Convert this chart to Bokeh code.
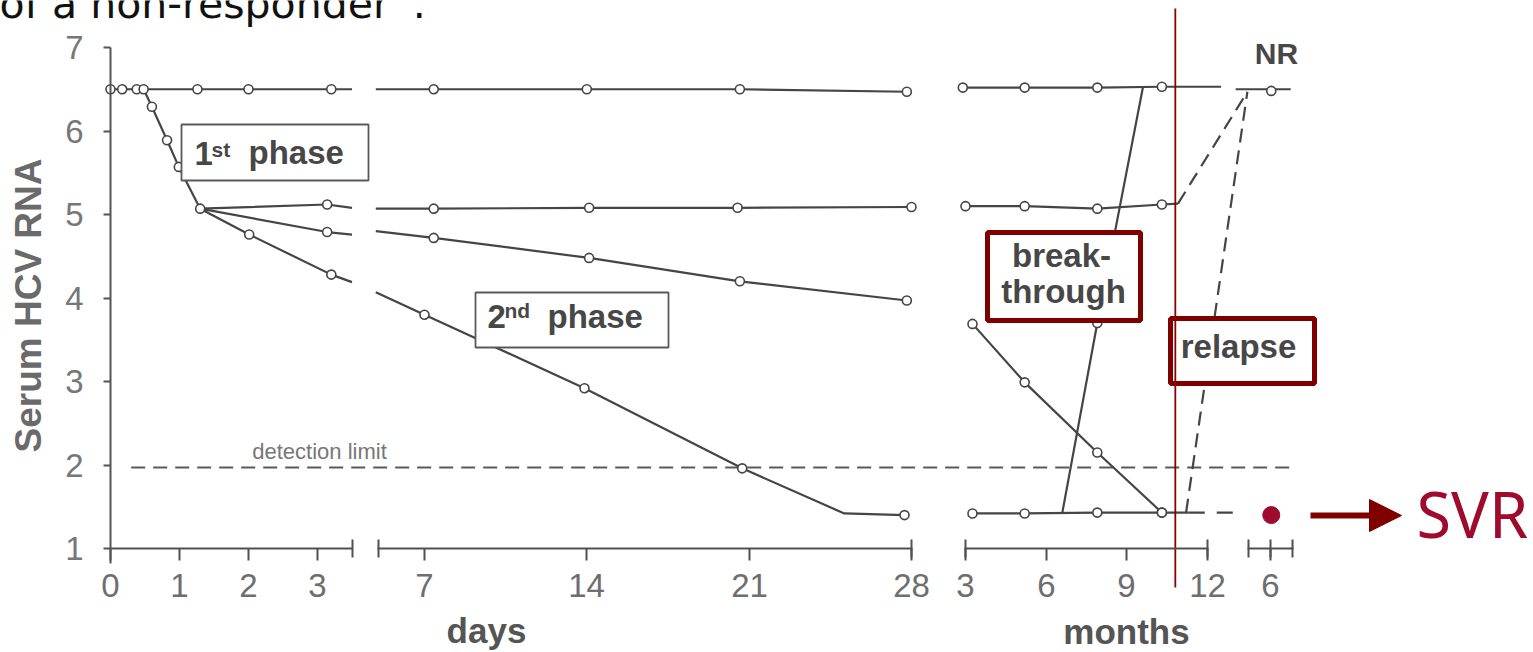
from bokeh.plotting import figure
from bokeh.models import Range1d, LinearAxis, FixedTicker, Label, Arrow, NormalHead
from bokeh.embed import file_html
from bokeh.resources import INLINE

# ---------------- data ----------------
# log10 serum HCV RNA over a broken time axis:
#   days 0-3.5 | days 5-28 | months 3-12 (therapy) | follow-up months 0-12
nr_days = [0, 0.17, 0.38, 0.48, 1.26, 2.0, 3.2]
nr_days_v = [6.5, 6.5, 6.5, 6.5, 6.5, 6.5, 6.5]
nr_weeks = [7.4, 14.0, 20.6, 27.8]
nr_weeks_v = [6.5, 6.5, 6.5, 6.47]
nr_months = [2.9, 5.2, 7.9, 10.3]
nr_months_v = [6.52, 6.52, 6.52, 6.53]
nr_follow = [6.2]
nr_follow_v = [6.48]

first_phase_days = [0.48, 0.6, 0.82, 0.99, 1.3]
first_phase_v = [6.5, 6.29, 5.89, 5.57, 5.07]

plateau_days = [1.3, 3.14]
plateau_days_v = [5.07, 5.12]
plateau_weeks = [7.4, 14.1, 20.5, 28.0]
plateau_weeks_v = [5.07, 5.08, 5.08, 5.09]
plateau_months = [3.0, 5.2, 7.9, 10.3]
plateau_months_v = [5.1, 5.1, 5.07, 5.12]

slow_days = [1.3, 3.14]
slow_days_v = [5.07, 4.79]
slow_weeks = [7.4, 14.1, 20.6, 27.8]
slow_weeks_v = [4.72, 4.48, 4.2, 3.97]

fast_days = [1.3, 2.01, 3.2]
fast_days_v = [5.07, 4.76, 4.28]
fast_weeks = [7.0, 13.9, 20.7, 27.7]
fast_weeks_v = [3.8, 2.92, 1.96, 1.4]
fast_knee = [25.1, 1.42]

late_months = [3.26, 5.2, 7.9, 10.3]
late_months_v = [3.69, 2.99, 2.15, 1.43]
svr_months = [3.26, 5.2, 7.9, 10.3]
svr_months_v = [1.42, 1.42, 1.43, 1.43]
svr_follow = [6.2]
svr_follow_v = [1.4]

breakthrough_months = [6.6, 7.9, 9.6]
breakthrough_v = [1.43, 3.7, 6.53]
relapse_start = [11.2, 1.43]      # month, value
plateau_relapse_start = [10.9, 5.13]
relapse_end_follow = [-0.3, 6.47]  # follow-up month, value

# values where lines meet the axis breaks
break_day_end, break_day_start = 3.5, 4.9
nr_break_v = [6.5, 6.5]
plateau_break_v = [5.08, 5.07]
slow_break_v = [4.76, 4.8]
fast_break_v = [4.19, 4.07]
nr_month_end, nr_follow_start, nr_follow_end = 12.5, -3.5, 11.5
svr_solid_end, svr_dash_end_follow = 11.3, -2.5

detection_limit = 1.97
end_of_therapy_month = 10.8

y_ticks = [1, 2, 3, 4, 5, 6, 7]
day_ticks_a = [0, 1, 2, 3]
day_ticks_b = [7, 14, 21, 28]
month_ticks = [3, 6, 9, 12]
follow_ticks = [6]

# ---------------- broken-axis layout ----------------
W, H = 1533, 652
PX_Y = 83.5
AXIS_X = 110          # page x of the y axis
AXIS_Y = 548          # page y of value 1
Y_TOP = 1 + AXIS_Y / PX_Y
Y_BOTTOM = Y_TOP - H / PX_Y


def x_day(d):
    return 69.0 * d if d <= 4 else 267.6 + 23.19 * (d - 5)


def x_mon(m):
    return 855.0 + 26.9 * (m - 3)


def x_fu(m):
    return 1138.0 + 3.67 * m


def ux(page_x):
    return page_x - AXIS_X


def vy(page_y):
    return Y_TOP - page_y / PX_Y


LINE = "#454545"
TXT = "#474747"
GRAY = "#6e6e6e"
RED = "#800000"
SVR_RED = "#9e0b2c"

p = figure(frame_width=W, frame_height=H,
           x_range=Range1d(-AXIS_X, W - AXIS_X), y_range=Range1d(Y_BOTTOM, Y_TOP),
           x_axis_type=None, y_axis_type=None, output_backend="svg", toolbar_location=None,
           min_border_left=0, min_border_right=0, min_border_top=0, min_border_bottom=0)
p.grid.visible = False
p.outline_line_color = None
p.background_fill_color = "white"
p.border_fill_color = "white"

# y axis, fixed at x = 0
ya = LinearAxis(ticker=FixedTicker(ticks=y_ticks), bounds=(0.82, 7), fixed_location=0.0)
ya.axis_line_color = "#555555"
ya.axis_line_width = 2
ya.major_tick_line_color = "#555555"
ya.major_tick_line_width = 2
ya.major_tick_out = 7
ya.major_tick_in = 0
ya.minor_tick_line_color = None
ya.major_label_text_font = "Liberation Sans"
ya.major_label_text_font_size = "33px"
ya.major_label_text_color = "#777777"
ya.major_label_standoff = 20
ya.axis_label = "Serum HCV RNA"
ya.axis_label_text_font = "Liberation Sans"
ya.axis_label_text_font_style = "bold"
ya.axis_label_text_font_size = "37px"
ya.axis_label_text_color = "#6a6a6a"
ya.axis_label_standoff = 13
p.add_layout(ya, "left")


# broken x axis: four axes fixed at y = 1
def add_x_axis(lo, hi, major, labels, minor):
    ticks = [int(round(t)) for t in major]
    mt = [int(round(t)) for t in minor]
    ax = LinearAxis(ticker=FixedTicker(ticks=ticks, minor_ticks=mt),
                    bounds=(lo - 0.6, hi + 0.6), fixed_location=1.0,
                    major_label_overrides={t: s for t, s in zip(ticks, labels)})
    ax.axis_line_color = "#505050"
    ax.axis_line_width = 2
    ax.major_tick_line_color = "#505050"
    ax.major_tick_line_width = 2
    ax.major_tick_out = 12
    ax.major_tick_in = 0
    ax.minor_tick_line_color = "#505050"
    ax.minor_tick_line_width = 2
    ax.minor_tick_in = 9
    ax.minor_tick_out = 9
    ax.major_label_text_font = "Liberation Sans"
    ax.major_label_text_font_size = "33px"
    ax.major_label_text_color = GRAY
    ax.major_label_standoff = 13
    p.add_layout(ax, "below")


add_x_axis(x_day(0), x_day(3.5), [x_day(d) for d in day_ticks_a],
           [str(d) for d in day_ticks_a], [x_day(3.5)])
add_x_axis(x_day(5), x_day(28), [x_day(d) for d in day_ticks_b],
           [str(d) for d in day_ticks_b], [x_day(5), x_day(28)])
add_x_axis(x_mon(3), x_mon(12), [x_mon(m) for m in month_ticks],
           [str(m) for m in month_ticks], [x_mon(3), x_mon(12)])
add_x_axis(x_fu(0), x_fu(12), [x_fu(m) for m in follow_ticks],
           [str(m) for m in follow_ticks], [x_fu(0), x_fu(6), x_fu(12)])

LW = 2.2


def solid(xs, ys):
    p.line(xs, ys, line_color=LINE, line_width=LW)


def dashed(xs, ys, dash="14 8"):
    p.line(xs, ys, line_color=LINE, line_width=LW, line_dash=dash)


def dots(xs, ys):
    p.scatter(xs, ys, marker="circle", size=9, fill_color="white",
              line_color=LINE, line_width=1.6)


# detection limit
p.line([x_day(0.3), x_fu(12.3)], [detection_limit, detection_limit],
       line_color="#5a5a5a", line_width=1.8, line_dash="14 8")

# non-responder
solid([x_day(d) for d in nr_days] + [x_day(break_day_end)], nr_days_v + [nr_break_v[0]])
solid([x_day(break_day_start)] + [x_day(d) for d in nr_weeks] + [x_day(28)],
      [nr_break_v[1]] + nr_weeks_v + [nr_weeks_v[-1]])
solid([x_mon(m) for m in nr_months] + [x_mon(nr_month_end)], nr_months_v + [nr_months_v[-1]])
solid([x_fu(nr_follow_start), x_fu(nr_follow_end)], [6.5, 6.5])

# first phase
solid([x_day(d) for d in first_phase_days], first_phase_v)

# plateau (partial response)
solid([x_day(d) for d in plateau_days] + [x_day(break_day_end)], plateau_days_v + [plateau_break_v[0]])
solid([x_day(break_day_start)] + [x_day(d) for d in plateau_weeks],
      [plateau_break_v[1]] + plateau_weeks_v)
solid([x_mon(m) for m in plateau_months] + [x_mon(plateau_relapse_start[0])],
      plateau_months_v + [plateau_relapse_start[1]])
dashed([x_mon(plateau_relapse_start[0]), x_fu(relapse_end_follow[0])],
       [plateau_relapse_start[1], relapse_end_follow[1]])

# slow second phase
solid([x_day(d) for d in slow_days] + [x_day(break_day_end)], slow_days_v + [slow_break_v[0]])
solid([x_day(break_day_start)] + [x_day(d) for d in slow_weeks], [slow_break_v[1]] + slow_weeks_v)

# fast second phase
solid([x_day(d) for d in fast_days] + [x_day(break_day_end)], fast_days_v + [fast_break_v[0]])
fw = [x_day(break_day_start)] + [x_day(d) for d in fast_weeks[:3]] + [x_day(fast_knee[0]), x_day(fast_weeks[3])]
fv = [fast_break_v[1]] + fast_weeks_v[:3] + [fast_knee[1], fast_weeks_v[3]]
solid(fw, fv)

# months: late responder -> SVR, breakthrough, relapse
solid([x_mon(m) for m in late_months], late_months_v)
solid([x_mon(m) for m in svr_months] + [x_mon(svr_solid_end)], svr_months_v + [svr_months_v[-1]])
dashed([x_mon(svr_solid_end), x_fu(svr_dash_end_follow)], [svr_months_v[-1], svr_months_v[-1]], "16 12")
solid([x_mon(m) for m in breakthrough_months], breakthrough_v)
dashed([x_mon(relapse_start[0]), x_fu(relapse_end_follow[0])], [relapse_start[1], relapse_end_follow[1]])

# markers
dots([x_day(d) for d in nr_days + nr_weeks] + [x_mon(m) for m in nr_months] + [x_fu(m) for m in nr_follow],
     nr_days_v + nr_weeks_v + nr_months_v + nr_follow_v)
dots([x_day(d) for d in first_phase_days[1:]], first_phase_v[1:])
dots([x_day(d) for d in plateau_days[1:] + plateau_weeks] + [x_mon(m) for m in plateau_months],
     plateau_days_v[1:] + plateau_weeks_v + plateau_months_v)
dots([x_day(d) for d in slow_days[1:] + slow_weeks], slow_days_v[1:] + slow_weeks_v)
dots([x_day(d) for d in fast_days[1:] + fast_weeks], fast_days_v[1:] + fast_weeks_v)
dots([x_mon(m) for m in late_months + svr_months] + [x_mon(breakthrough_months[1])],
     late_months_v + svr_months_v + [breakthrough_v[1]])

# annotation boxes (white, opaque)
p.quad(left=[ux(181), ux(475)], right=[ux(368), ux(668)], top=[vy(124), vy(292)],
       bottom=[vy(180), vy(347)], fill_color="white", line_color="#5a5a5a", line_width=1.8)
p.quad(left=[ux(987), ux(1170)], right=[ux(1140), ux(1314)], top=[vy(232), vy(318)],
       bottom=[vy(320), vy(383)], fill_color="white", line_color=RED, line_width=5)

# end of therapy marker line
p.line([x_mon(end_of_therapy_month)] * 2, [vy(587), vy(8)], line_color="#8b0000", line_width=1.8)

# SVR point
p.scatter([x_fu(m) for m in svr_follow], svr_follow_v, marker="circle", size=17,
          fill_color=SVR_RED, line_color=SVR_RED)


def lab(px, baseline, text, size, bold=True, color=TXT, align="left", font="Liberation Sans"):
    # renderer places the alphabetic baseline ~0.35 em lower than asked; compensate
    p.add_layout(Label(x=ux(px), y=vy(baseline - 0.35 * size), text=text, text_font=font,
                       text_font_size=f"{size}px",
                       text_font_style="bold" if bold else "normal", text_color=color,
                       text_align=align, text_baseline="alphabetic"))


lab(194, 165, "1", 33)
lab(211, 156, "st", 21)
lab(248, 164, "phase", 33)
lab(487, 328, "2", 33)
lab(504, 317, "nd", 21)
lab(547, 328, "phase", 33)
lab(1061, 267, "break-", 33, align="center")
lab(1063, 303, "through", 33, align="center")
lab(1238, 358, "relapse", 33, align="center")
lab(1276, 63, "NR", 30, align="center")
lab(319, 459, "detection limit", 22, bold=False, color="#777777", align="center")
lab(486, 642, "days", 35, color="#555555", align="center")
lab(1126, 643, "months", 35, color="#555555", align="center")
lab(-1, 18, "of a non-responder\u201d.", 41, bold=False, color="#111111", font="DejaVu Sans")
lab(1416, 535, "SVR", 63, bold=False, color=SVR_RED, font="Noto Sans")

p.add_layout(Arrow(end=NormalHead(size=32, fill_color=RED, line_color=RED),
                   x_start=ux(1310), y_start=vy(515), x_end=ux(1401), y_end=vy(515),
                   line_color=RED, line_width=6))

open("out.html", "w").write(file_html(p, INLINE))
